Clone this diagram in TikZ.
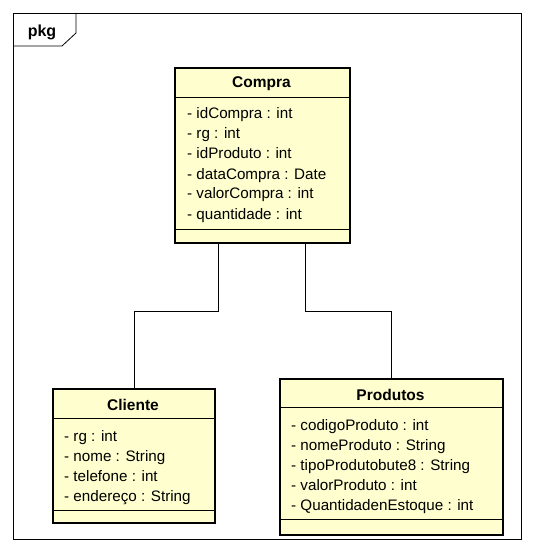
\documentclass[tikz,border=0pt]{standalone}
\usepackage{fontspec}
\setmainfont{Liberation Sans}
\usetikzlibrary{calc}
\definecolor{classfill}{RGB}{254,254,206}
\tikzset{
  classbox/.style={draw, line width=1.8pt, fill=classfill, anchor=north west, inner sep=0pt},
  sepline/.style={line width=0.8pt},
  ctitle/.style={font=\fontsize{15.5}{17}\selectfont\bfseries, inner sep=0pt, anchor=base},
  attr/.style={font=\fontsize{15.2}{17}\selectfont, anchor=base west, inner sep=0pt},
  conn/.style={line width=0.8pt},
  frame/.style={line width=0.8pt}
}
\begin{document}
\begin{tikzpicture}[x=1pt,y=-1pt]
\useasboundingbox (0,0) rectangle (534,553);
% package frame
\draw[frame] (13,13) rectangle (521,539);
\draw[frame] (13,46) -- (62,46) -- (76,33) -- (76,13);
\node[font=\fontsize{16}{18}\selectfont\bfseries, inner sep=0pt, anchor=base] (pkg) at (42,37) {pkg};

% Compra
\node[classbox, minimum width=175pt, minimum height=175pt] (compra) at (174,67) {};
\draw[sepline] (174,97) -- (349,97);
\draw[sepline] (174,229) -- (349,229);
\node[ctitle] (compraT) at (261.5,88) {Compra};
\node[attr] (c1) at (187,119) {- idCompra : int};
\node[attr] (c2) at (187,139) {- rg : int};
\node[attr] (c3) at (187,159) {- idProduto : int};
\node[attr] (c4) at (187,179) {- dataCompra : Date};
\node[attr] (c5) at (187,199) {- valorCompra : int};
\node[attr] (c6) at (187,219) {- quantidade : int};

% Cliente
\node[classbox, minimum width=162pt, minimum height=134pt] (cliente) at (52,388) {};
\draw[sepline] (52,418) -- (214,418);
\draw[sepline] (52,510) -- (214,510);
\node[ctitle] (clienteT) at (133,410) {Cliente};
\node[attr] (l1) at (64,441) {- rg : int};
\node[attr] (l2) at (64,461) {- nome : String};
\node[attr] (l3) at (64,481) {- telefone : int};
\node[attr] (l4) at (64,501) {- endereço : String};

% Produtos
\node[classbox, minimum width=223pt, minimum height=156pt] (produtos) at (279,378) {};
\draw[sepline] (279,407) -- (502,407);
\draw[sepline] (279,519) -- (502,519);
\node[ctitle] (produtosT) at (390.5,400) {Produtos};
\node[attr] (p1) at (291,430) {- codigoProduto : int};
\node[attr] (p2) at (291,450) {- nomeProduto : String};
\node[attr] (p3) at (291,470) {- tipoProdutobute8 : String};
\node[attr] (p4) at (291,490) {- valorProduto : int};
\node[attr] (p5) at (291,510) {- QuantidadenEstoque : int};

% connectors
\draw[conn] ([xshift=44pt]compra.south west) |- (cliente.north |- 0,311) -- (cliente.north);
\draw[conn] ([xshift=131pt]compra.south west) |- (produtos.north |- 0,311) -- (produtos.north);
\end{tikzpicture}
\end{document}
